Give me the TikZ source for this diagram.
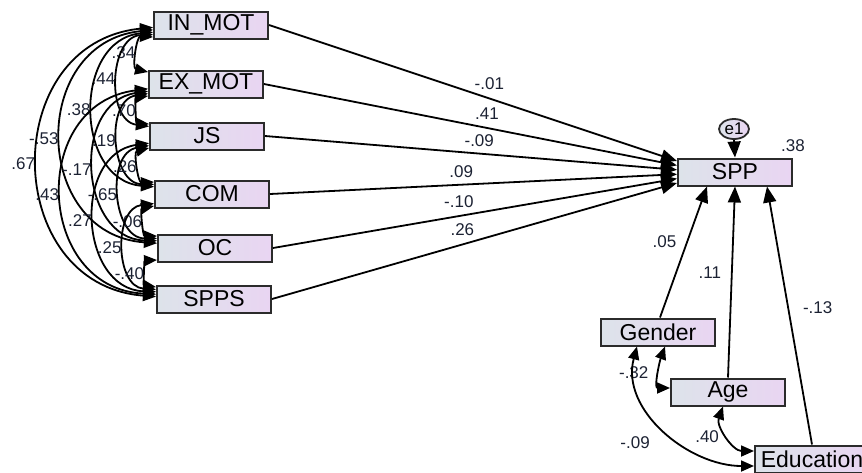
\documentclass[tikz,border=0pt]{standalone}
\usepackage{fontspec}
\setmainfont{Liberation Sans}
\usetikzlibrary{arrows.meta,positioning,shapes.geometric,calc}
\definecolor{PathGray}{HTML}{DDE3EA}
\definecolor{PathLilac}{HTML}{E9D5F2}
\definecolor{PathDark}{HTML}{2B2B2B}
\definecolor{PathInk}{HTML}{1C2233}
\tikzset{
  varbox/.style={draw=PathDark,line width=1pt,left color=PathGray,right color=PathLilac,minimum width=57pt,minimum height=13.5pt,inner sep=0pt,font=\fontsize{11.5}{11.5}\selectfont},
  errcirc/.style={ellipse,draw=PathDark,line width=0.9pt,left color=PathGray,right color=PathLilac,minimum width=15pt,minimum height=10pt,inner sep=0pt,font=\fontsize{8.5}{8.5}\selectfont},
  regarrow/.style={-{Triangle[length=8pt,width=6.5pt]},line width=0.9pt,draw=black},
  covarrow/.style={{Triangle[length=6.5pt,width=5.5pt]}-{Triangle[length=6.5pt,width=5.5pt]},line width=0.9pt,draw=black},
  covbend/.style={bend right=85,looseness=#1},
  coeflabel/.style={font=\fontsize{8.5}{8.5}\selectfont,text=PathInk,inner sep=1pt}
}

\begin{document}
\begin{tikzpicture}[x=0.5pt,y=-0.5pt]
\useasboundingbox (0,0) rectangle (862,472);
% observed variables
\node[varbox] (inmot) at (211,25) {IN\_MOT};
\node[varbox] (exmot) at (206,84) {EX\_MOT};
\node[varbox] (js) at (207,136) {JS};
\node[varbox] (com) at (212,194) {COM};
\node[varbox] (oc) at (215,248) {OC};
\node[varbox] (spps) at (214,299) {SPPS};
\node[varbox] (spp) at (735,172) {SPP};
\node[errcirc] (e1) at (734,129) {e1};
\node[coeflabel] (rsq) at (793,146) {.38};
\node[varbox] (gender) at (658,332) {Gender};
\node[varbox] (age) at (728,392) {Age};
\node[varbox] (edu) at (812,459) {Education};

% regression paths
\draw[regarrow] (inmot.east) -- ([yshift=5.5pt]spp.west) node[coeflabel,pos=0.54,above=3pt] (binmot) {-.01};
\draw[regarrow] (exmot.east) -- ([yshift=3.3pt]spp.west) node[coeflabel,pos=0.54,above=3pt] (bexmot) {.41};
\draw[regarrow] (js.east) -- ([yshift=1.1pt]spp.west) node[coeflabel,pos=0.52,above=2pt] (bjs) {-.09};
\draw[regarrow] (com.east) -- ([yshift=-1.1pt]spp.west) node[coeflabel,pos=0.47,above=2pt] (bcom) {.09};
\draw[regarrow] (oc.east) -- ([yshift=-3.3pt]spp.west) node[coeflabel,pos=0.46,above=3pt] (boc) {-.10};
\draw[regarrow] (spps.east) -- ([yshift=-5.5pt]spp.west) node[coeflabel,pos=0.47,above=3pt] (bspps) {.26};
\draw[regarrow] (e1.south) -- (spp.north);
\draw[regarrow] ([xshift=1pt]gender.north) -- ([xshift=-14pt]spp.south) node[coeflabel,pos=0.58,left=4pt] (bgender) {.05};
\draw[regarrow] (age.north) -- (spp.south) node[coeflabel,pos=0.55,left=4pt] (bage) {.11};
\draw[regarrow] (edu.north) -- ([xshift=16pt]spp.south) node[coeflabel,pos=0.53,right=6pt] (bedu) {-.13};

% covariances, left block
\draw[covarrow] ([yshift=-6pt]inmot.west) to[covbend=1.2] node[coeflabel,left=0pt] (c12) {.34} ([yshift=6pt]exmot.west);
\draw[covarrow] ([yshift=-4.8pt]inmot.west) to[covbend=1.22] node[coeflabel,left=0pt] (c13) {.44} ([yshift=4.8pt]js.west);
\draw[covarrow] ([yshift=-3.6pt]inmot.west) to[covbend=1.33] node[coeflabel,left=0pt] (c14) {.38} ([yshift=3.6pt]com.west);
\draw[covarrow] ([yshift=-2.4pt]inmot.west) to[covbend=1.5] node[coeflabel,left=0pt] (c15) {-.53} ([yshift=2.4pt]oc.west);
\draw[covarrow] ([yshift=-1.2pt]inmot.west) to[covbend=1.48] node[coeflabel,left=0pt] (c16) {.67} ([yshift=1.2pt]spps.west);
\draw[covarrow] ([yshift=-6pt]exmot.west) to[covbend=1.2] node[coeflabel,left=0pt] (c23) {.70} ([yshift=6pt]js.west);
\draw[covarrow] ([yshift=-4.8pt]exmot.west) to[covbend=1.22] node[coeflabel,left=0pt] (c24) {.19} ([yshift=4.8pt]com.west);
\draw[covarrow] ([yshift=-3.6pt]exmot.west) to[covbend=1.33] node[coeflabel,left=0pt] (c25) {-.17} ([yshift=3.6pt]oc.west);
\draw[covarrow] ([yshift=-2.4pt]exmot.west) to[covbend=1.5] node[coeflabel,left=0pt] (c26) {.43} ([yshift=2.4pt]spps.west);
\draw[covarrow] ([yshift=-6pt]js.west) to[covbend=1.2] node[coeflabel,left=0pt] (c34) {.26} ([yshift=6pt]com.west);
\draw[covarrow] ([yshift=-4.8pt]js.west) to[covbend=1.22] node[coeflabel,left=0pt] (c35) {-.65} ([yshift=4.8pt]oc.west);
\draw[covarrow] ([yshift=-3.6pt]js.west) to[covbend=1.33] node[coeflabel,left=0pt] (c36) {.27} ([yshift=3.6pt]spps.west);
\draw[covarrow] ([yshift=-6pt]com.west) to[covbend=1.2] node[coeflabel,left=0pt] (c45) {-.06} ([yshift=6pt]oc.west);
\draw[covarrow] ([yshift=-4.8pt]com.west) to[covbend=1.22] node[coeflabel,left=0pt] (c46) {.25} ([yshift=4.8pt]spps.west);
\draw[covarrow] ([yshift=-6pt]oc.west) to[covbend=1.2] node[coeflabel,left=0pt] (c56) {-.40} ([yshift=6pt]spps.west);

% covariances, background variables
\draw[covarrow] ([xshift=3.5pt]gender.south) to[out=250,in=180] node[coeflabel,left=4pt] (cga) {-.32} ([yshift=2pt]age.west);
\draw[covarrow] ([xshift=-10.5pt]gender.south) to[out=255,in=180] node[coeflabel,below left=2pt and 6pt] (cge) {-.09} ([yshift=-3.5pt]edu.west);
\draw[covarrow] ([xshift=-2.5pt]age.south) to[out=250,in=180] node[coeflabel,left=3pt] (cae) {.40} ([yshift=4pt]edu.west);
\end{tikzpicture}
\end{document}
